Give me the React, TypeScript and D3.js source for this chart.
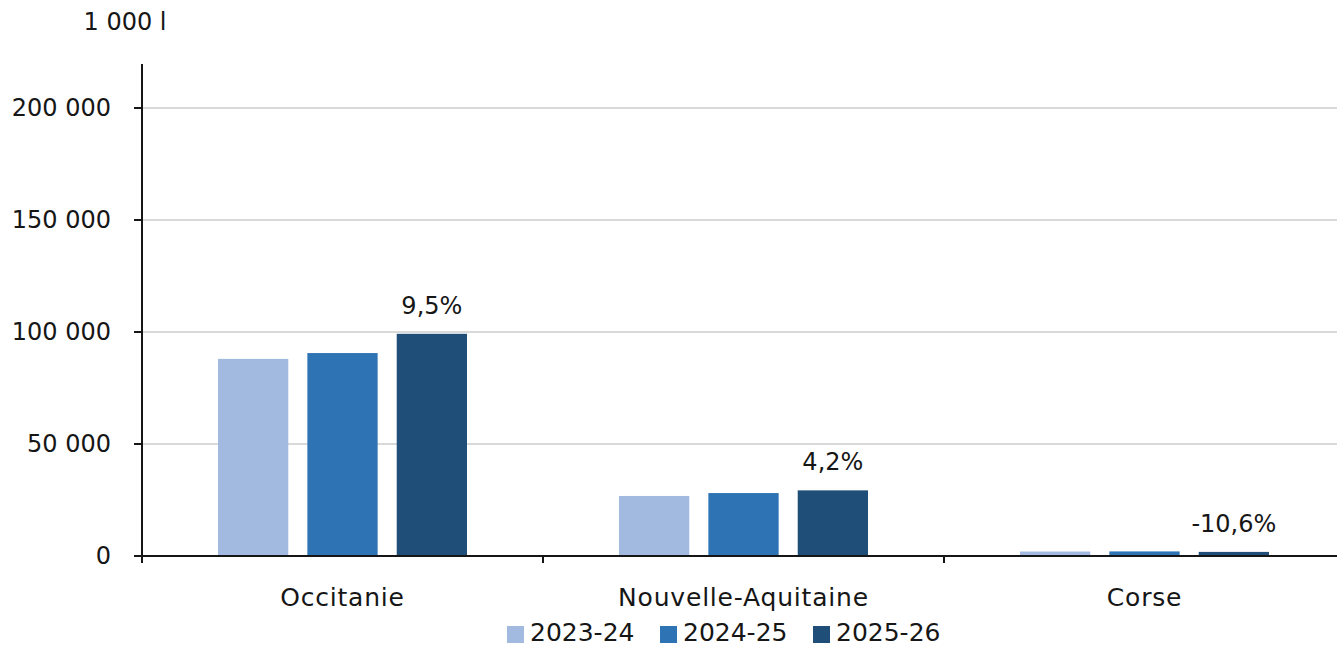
import * as d3 from "d3";

const regions = ["Occitanie", "Nouvelle-Aquitaine", "Corse"];
const seasons = ["2023-24", "2024-25", "2025-26"];
const volumes2023 = [88000, 26800, 2000];
const volumes2024 = [90600, 28100, 2050];
const volumes2025 = [99200, 29300, 1830];
const changeLabels = ["9,5%", "4,2%", "-10,6%"];
const yTicks = [0, 50000, 100000, 150000, 200000];
const colors = ["#a2b9e0", "#2e74b5", "#1f4e79"];

export default function App() {
  const width = 1337;
  const height = 645;
  const margin = { top: 64, left: 142, bottom: 89 };
  const plotRight = 1345;
  const font = "'DejaVu Sans', 'Open Sans', sans-serif";
  const fs = 24;

  const series = [volumes2023, volumes2024, volumes2025];

  const x = d3.scaleBand().domain(regions).range([margin.left, plotRight]).paddingInner(0).paddingOuter(0);
  const inner = d3.scaleBand().domain(seasons).range([76, 325]).paddingInner(19 / 89);
  const y = d3.scaleLinear().domain([0, 200000]).range([556, 108]);
  const fmt = (v: number) => d3.format(",")(v).replace(/,/g, " ");

  const legendX = [507, 660, 813];

  return (
    <svg
      width={width}
      height={height}
      style={{ position: "absolute", left: 0, top: 0, display: "block" }}
      fontFamily={font}
    >
      <rect width={width} height={height} fill="#fff" />
      {yTicks.slice(1).map((t) => (
        <line key={t} x1={margin.left} x2={plotRight} y1={y(t)} y2={y(t)} stroke="#d9d9d9" strokeWidth={2} />
      ))}
      <text x={125} y={22} textAnchor="middle" dominantBaseline="central" fontSize={fs} fill="#161616">
        1 000 l
      </text>
      {regions.map((r, i) => (
        <g key={r} transform={`translate(${x(r)},0)`}>
          {series.map((s, j) => (
            <rect
              key={j}
              x={inner(seasons[j])}
              y={y(s[i])}
              width={inner.bandwidth()}
              height={y(0) - y(s[i])}
              fill={colors[j]}
            />
          ))}
          <text
            x={(inner(seasons[2]) || 0) + inner.bandwidth() / 2}
            y={y(volumes2025[i]) - 28}
            textAnchor="middle"
            dominantBaseline="central"
            fontSize={fs}
            fill="#161616"
          >
            {changeLabels[i]}
          </text>
          <text
            x={x.bandwidth() / 2}
            y={597}
            textAnchor="middle"
            dominantBaseline="central"
            fontSize={25}
            letterSpacing={0.8}
            fill="#161616"
          >
            {r}
          </text>
        </g>
      ))}
      <line x1={margin.left} x2={plotRight} y1={y(0)} y2={y(0)} stroke="#161616" strokeWidth={2} />
      <line x1={margin.left} x2={margin.left} y1={margin.top} y2={563} stroke="#161616" strokeWidth={2} />
      {regions.map((r) => (
        <line key={r} x1={x(r)} x2={x(r)} y1={556} y2={563} stroke="#161616" strokeWidth={2} />
      ))}
      {yTicks.map((t) => (
        <g key={t}>
          <line x1={134} x2={margin.left} y1={y(t)} y2={y(t)} stroke="#161616" strokeWidth={2} />
          <text x={111} y={y(t)} textAnchor="end" dominantBaseline="central" fontSize={fs} fill="#161616">
            {fmt(t)}
          </text>
        </g>
      ))}
      {seasons.map((s, j) => (
        <g key={s}>
          <rect x={legendX[j]} y={626} width={17} height={17} fill={colors[j]} />
          <text x={legendX[j] + 23} y={632} dominantBaseline="central" fontSize={25} fill="#161616">
            {s}
          </text>
        </g>
      ))}
    </svg>
  );
}
